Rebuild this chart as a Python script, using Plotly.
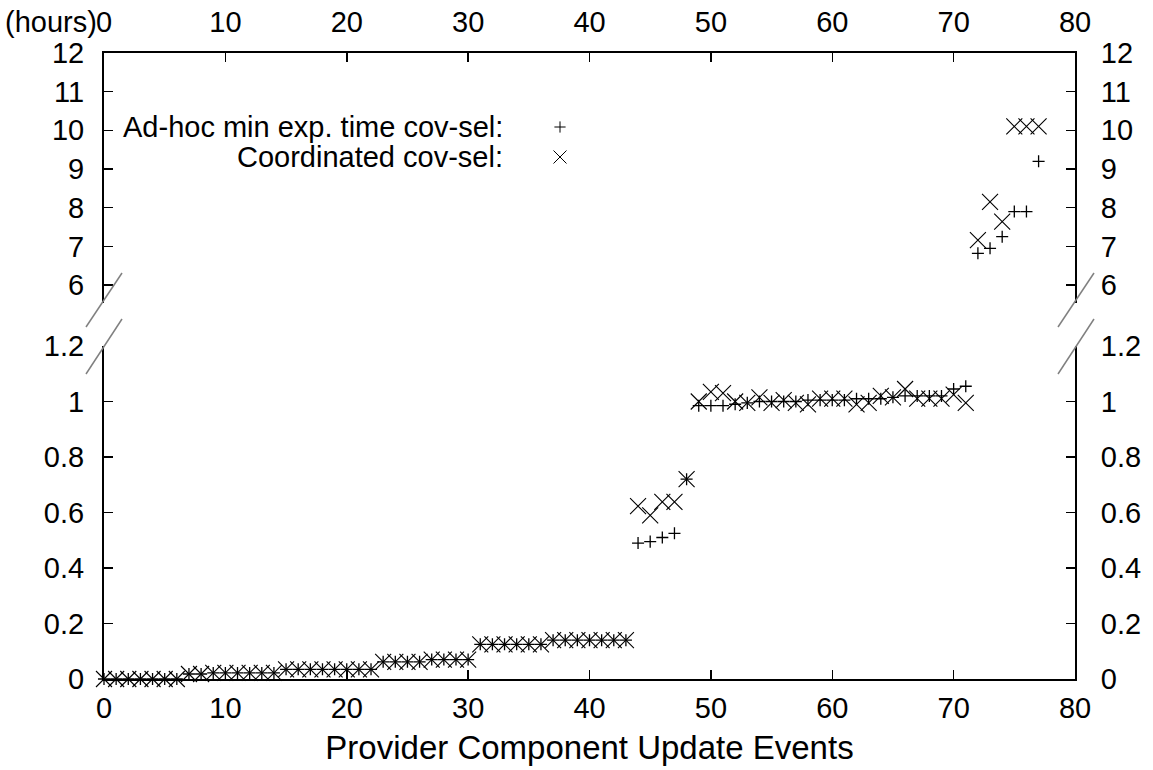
import plotly.graph_objects as go

# The page's body margin is removed (post_script) so the figure fills the window.
PAGE_W, PAGE_H = 1153, 770
BODY = 0
W, H = PAGE_W - 2 * BODY, PAGE_H - 2 * BODY

events = list(range(78))
adhoc = [0, 0, 0, 0, 0, 0, 0,
         0.018, 0.018, 0.022, 0.022, 0.022, 0.022, 0.022, 0.022,
         0.035, 0.035, 0.035, 0.035, 0.035, 0.035, 0.035, 0.035,
         0.062, 0.062, 0.062, 0.062, 0.07, 0.07, 0.07, 0.07,
         0.125, 0.125, 0.125, 0.125, 0.125, 0.125,
         0.14, 0.14, 0.14, 0.14, 0.14, 0.14, 0.14,
         0.49, 0.495, 0.51, 0.525, 0.72,
         0.985, 0.985, 0.985, 0.99, 0.995, 1.0, 1.0, 1.0, 1.0, 1.005, 1.005,
         1.005, 1.005, 1.01, 1.01, 1.01, 1.015, 1.02, 1.02, 1.02, 1.02, 1.045, 1.055,
         6.82, 6.95, 7.25, 7.9, 7.9, 9.2]
coord = [0, 0, 0, 0, 0, 0, 0,
         0.018, 0.018, 0.022, 0.022, 0.022, 0.022, 0.022, 0.022,
         0.035, 0.035, 0.035, 0.035, 0.035, 0.035, 0.035, 0.035,
         0.062, 0.062, 0.062, 0.062, 0.07, 0.07, 0.07, 0.07,
         0.125, 0.125, 0.125, 0.125, 0.125, 0.125,
         0.14, 0.14, 0.14, 0.14, 0.14, 0.14, 0.14,
         0.623, 0.59, 0.638, 0.638, 0.72,
         1.0, 1.035, 1.03, 1.0, 0.995, 1.015, 0.995, 1.005, 0.995, 0.99, 1.01,
         1.01, 1.01, 0.99, 0.995, 1.02, 1.015, 1.045, 1.01, 1.01, 1.01, 1.025, 0.995,
         7.16, 8.15, 7.64, 10.1, 10.1, 10.1]

x_ticks = [0, 10, 20, 30, 40, 50, 60, 70, 80]
low_ticks = [0, 0.2, 0.4, 0.6, 0.8, 1.0, 1.2]
high_ticks = [6, 7, 8, 9, 10, 11, 12]
BREAK = 1.2

FONT = "Liberation Sans, Arial, Helvetica, sans-serif"
FS = 29
FS_TITLE = 33

def px_x(p):
    return (p - BODY) / W

def px_y(p):
    return 1 - (p - BODY) / H

xd = [px_x(104), px_x(1075)]
low_dom = [px_y(679), px_y(346)]
high_dom = [px_y(303), px_y(53)]
low_range = [0, 1.2]
high_range = [5.535, 12]

def split(vals, low):
    xs, ys = [], []
    for e, v in zip(events, vals):
        if (v <= BREAK) == low:
            xs.append(e)
            ys.append(v)
    return xs, ys

fig = go.Figure()

plus = dict(symbol="cross-thin", size=8.6, line=dict(color="black", width=1.3), color="black")
cross = dict(symbol="x-thin", size=16, line=dict(color="black", width=1.1), color="black")
plus_key = dict(symbol="cross-thin", size=8, line=dict(color="black", width=1.0), color="black")
cross_key = dict(symbol="x-thin", size=13, line=dict(color="black", width=1.0), color="black")

# Ad-hoc on left-side axes, Coordinated on right-side (overlaying, same ranges)
xs, ys = split(adhoc, True)
fig.add_trace(go.Scatter(x=xs, y=ys, mode="markers", marker=plus, name="Ad-hoc min exp. time cov-sel:",
                         xaxis="x", yaxis="y", showlegend=False, cliponaxis=False))
xs, ys = split(adhoc, False)
fig.add_trace(go.Scatter(x=xs, y=ys, mode="markers", marker=plus, name="Ad-hoc min exp. time cov-sel:",
                         xaxis="x2", yaxis="y2", showlegend=False, cliponaxis=False))
xs, ys = split(coord, True)
fig.add_trace(go.Scatter(x=xs, y=ys, mode="markers", marker=cross, name="Coordinated cov-sel:",
                         xaxis="x", yaxis="y3", showlegend=False, cliponaxis=False))
xs, ys = split(coord, False)
fig.add_trace(go.Scatter(x=xs, y=ys, mode="markers", marker=cross, name="Coordinated cov-sel:",
                         xaxis="x2", yaxis="y4", showlegend=False, cliponaxis=False))

axfont = dict(family=FONT, size=FS, color="black")
common_x = dict(range=[0, 80], tickvals=x_ticks, showgrid=False, zeroline=False,
                showline=True, linecolor="black", linewidth=2, ticks="inside",
                ticklen=9, tickwidth=1.5, tickcolor="black", tickfont=axfont, domain=xd,
                automargin=False)
common_y = dict(showgrid=False, zeroline=False, showline=True, linecolor="black",
                linewidth=2, ticks="inside", ticklen=9, tickwidth=1.5, tickcolor="black",
                tickfont=axfont, automargin=False)

fig.update_layout(
    template="none",
    width=W, height=H, autosize=False,
    margin=dict(l=0, r=0, t=0, b=0, pad=0, autoexpand=False),
    paper_bgcolor="white", plot_bgcolor="white",
    font=dict(family=FONT, size=FS, color="black"),
    xaxis=dict(common_x, anchor="y", side="bottom", ticklabelstandoff=2,
               title=dict(text="Provider Component Update Events",
                          font=dict(family=FONT, size=FS_TITLE, color="black"), standoff=13)),
    yaxis=dict(common_y, domain=low_dom, range=low_range, tickvals=low_ticks,
               anchor="x", side="left", ticklabelstandoff=12),
    yaxis3=dict(common_y, domain=low_dom, range=low_range, tickvals=low_ticks,
                overlaying="y", anchor="x", side="right", ticklabelstandoff=18),
    xaxis2=dict(common_x, anchor="y2", side="top", ticklabelstandoff=7),
    yaxis2=dict(common_y, domain=high_dom, range=high_range, tickvals=high_ticks,
                anchor="x2", side="left", ticklabelstandoff=12),
    yaxis4=dict(common_y, domain=high_dom, range=high_range, tickvals=high_ticks,
                overlaying="y2", anchor="x2", side="right", ticklabelstandoff=18),
    showlegend=False,
    hovermode=False,
)

# break marks
brk = []
for xl in (86, 1058):
    for (y0, y1) in ((327, 273), (374, 319)):
        brk.append(dict(type="line", xref="paper", yref="paper",
                        x0=px_x(xl), y0=px_y(y0), x1=px_x(xl + 36), y1=px_y(y1),
                        line=dict(color="#808080", width=1.5)))
fig.update_layout(shapes=brk)

ann = [
    dict(text="(hours)", xref="paper", yref="paper", x=px_x(99), y=px_y(22),
         xanchor="right", yanchor="middle", showarrow=False, font=axfont),
    dict(text="Ad-hoc min exp. time cov-sel:", xref="paper", yref="paper",
         x=px_x(505), y=px_y(127), xanchor="right", yanchor="middle",
         showarrow=False, font=axfont),
    dict(text="Coordinated cov-sel:", xref="paper", yref="paper",
         x=px_x(505), y=px_y(157), xanchor="right", yanchor="middle",
         showarrow=False, font=axfont),
]
fig.update_layout(annotations=ann)

# legend keys
fig.add_trace(go.Scatter(x=[0.5], y=[0.5], mode="markers", marker=plus_key, xaxis="x5", yaxis="y5",
                         showlegend=False, hoverinfo="skip"))
fig.add_trace(go.Scatter(x=[0.5], y=[0.5], mode="markers", marker=cross_key, xaxis="x6", yaxis="y6",
                         showlegend=False, hoverinfo="skip"))
for i, yc in ((5, 127), (6, 157)):
    fig.update_layout(**{
        f"xaxis{i}": dict(domain=[px_x(550), px_x(570)], range=[0, 1], visible=False,
                          anchor=f"y{i}", automargin=False),
        f"yaxis{i}": dict(domain=[px_y(yc + 10), px_y(yc - 10)], range=[0, 1], visible=False,
                          anchor=f"x{i}", automargin=False),
    })

fig.write_html("out.html",
               config={"displayModeBar": False, "staticPlot": True},
               post_script="document.body.style.margin='0px';document.body.style.overflow='hidden';")
